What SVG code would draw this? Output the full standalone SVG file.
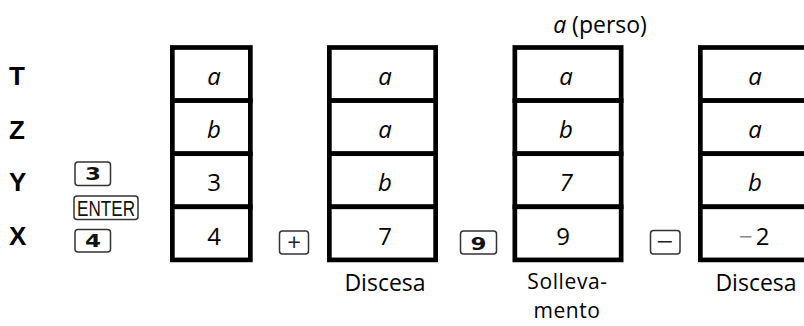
<svg xmlns="http://www.w3.org/2000/svg" width="804" height="326" viewBox="0 0 804 326">
<style>
.cell{fill:#fff;stroke:#000;stroke-width:4.7}
.v{font-family:"Open Sans","DejaVu Sans",sans-serif;font-size:24px;fill:#000;text-anchor:middle}
.i{font-style:italic}
.reg{font-family:"Liberation Sans","Arial",sans-serif;font-weight:bold;font-size:26px;fill:#000}
.key{fill:#fff;stroke:#333;stroke-width:1.5}
.kd{font-family:"DejaVu Sans",sans-serif;font-weight:bold;font-size:18px;fill:#111;text-anchor:middle}
.kt{font-family:"Liberation Sans",sans-serif;font-size:22px;fill:#111;text-anchor:middle}
.ko{font-family:"Open Sans","DejaVu Sans",sans-serif;font-size:24px;fill:#222;text-anchor:middle}
.lbl{font-family:"Open Sans","DejaVu Sans",sans-serif;font-size:23px;fill:#000;text-anchor:middle}
.lbs{font-family:"Open Sans","DejaVu Sans",sans-serif;font-size:21px;letter-spacing:0.6px;fill:#000;text-anchor:middle}
</style>
<g id="registers">
<text class="reg" x="9" y="85">T</text>
<text class="reg" x="9" y="139">Z</text>
<text class="reg" x="9" y="191">Y</text>
<text class="reg" x="9" y="245">X</text>
</g>
<g id="keys-initial">
<rect class="key" x="75" y="162" width="35.5" height="23.5" rx="3"/>
<text class="kd" x="93" y="180" textLength="16" lengthAdjust="spacingAndGlyphs">3</text>
<rect class="key" x="74" y="196" width="64" height="23.5" rx="3"/>
<text class="kt" x="106" y="216" textLength="58" lengthAdjust="spacingAndGlyphs">ENTER</text>
<rect class="key" x="75" y="229.5" width="35.5" height="22.5" rx="3"/>
<text class="kd" x="93" y="247" textLength="16" lengthAdjust="spacingAndGlyphs">4</text>
</g>
<g id="stack1">
<rect class="cell" x="172.35" y="47.5" width="78" height="53.1"/>
<rect class="cell" x="172.35" y="100.6" width="78" height="53.1"/>
<rect class="cell" x="172.35" y="153.7" width="78" height="53.1"/>
<rect class="cell" x="172.35" y="206.8" width="78" height="53.1"/>
<text class="v i" x="214" y="85">a</text>
<text class="v i" x="214" y="138">b</text>
<text class="v" x="214" y="191">3</text>
<text class="v" x="214" y="245">4</text>
</g>
<g id="key-plus">
<rect class="key" x="279.5" y="231" width="29" height="23" rx="3"/>
<text class="ko" x="294" y="251">+</text>
</g>
<g id="stack2">
<rect class="cell" x="329.35" y="47.5" width="106.3" height="53.1"/>
<rect class="cell" x="329.35" y="100.6" width="106.3" height="53.1"/>
<rect class="cell" x="329.35" y="153.7" width="106.3" height="53.1"/>
<rect class="cell" x="329.35" y="206.8" width="106.3" height="53.1"/>
<text class="v i" x="385" y="85">a</text>
<text class="v i" x="385" y="138">a</text>
<text class="v i" x="385" y="191">b</text>
<text class="v" x="385" y="245">7</text>
<text class="lbl" x="385" y="291">Discesa</text>
</g>
<g id="key-9">
<rect class="key" x="460.5" y="231" width="36" height="23" rx="3"/>
<text class="kd" x="478.5" y="249.5" textLength="16" lengthAdjust="spacingAndGlyphs">9</text>
</g>
<g id="stack3">
<text class="lbl" x="600" y="33"><tspan font-style="italic">a</tspan> (perso)</text>
<rect class="cell" x="514.85" y="47.5" width="106.3" height="53.1"/>
<rect class="cell" x="514.85" y="100.6" width="106.3" height="53.1"/>
<rect class="cell" x="514.85" y="153.7" width="106.3" height="53.1"/>
<rect class="cell" x="514.85" y="206.8" width="106.3" height="53.1"/>
<text class="v i" x="566" y="85">a</text>
<text class="v i" x="566" y="138">b</text>
<text class="v i" x="566" y="191">7</text>
<text class="v" x="563" y="245">9</text>
<text class="lbs" y="289"><tspan x="567.5">Solleva-</tspan><tspan x="567" dy="29">mento</tspan></text>
</g>
<g id="key-minus">
<rect class="key" x="650.5" y="230.5" width="29.5" height="23.5" rx="3"/>
<text class="ko" x="665" y="250" textLength="17" lengthAdjust="spacingAndGlyphs">−</text>
</g>
<g id="stack4">
<rect class="cell" x="700.35" y="47.5" width="106.3" height="53.1"/>
<rect class="cell" x="700.35" y="100.6" width="106.3" height="53.1"/>
<rect class="cell" x="700.35" y="153.7" width="106.3" height="53.1"/>
<rect class="cell" x="700.35" y="206.8" width="106.3" height="53.1"/>
<text class="v i" x="755" y="85">a</text>
<text class="v i" x="755" y="138">a</text>
<text class="v i" x="755" y="191">b</text>
<text class="v" x="739" y="245" style="text-anchor:start"><tspan fill="#888">−</tspan><tspan dx="3">2</tspan></text>
<text class="lbl" x="756" y="291">Discesa</text>
</g>
</svg>
